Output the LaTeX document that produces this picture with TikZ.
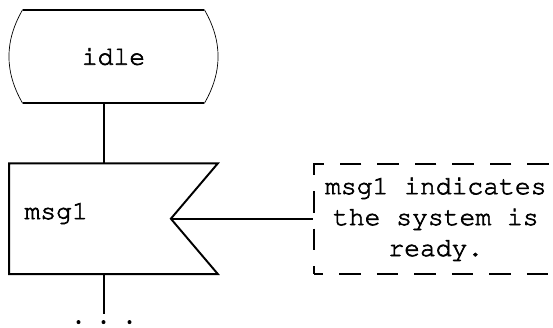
\documentclass[tikz,border=0pt]{standalone}
\usepackage[T1]{fontenc}
\usepackage{courier}
\usetikzlibrary{positioning, calc}
\newcommand\heavytext[1]{\special{pdf:literal direct 2 Tr 0.35 w}#1\special{pdf:literal direct 0 Tr}}
\tikzset{
	statebox/.style ={rectangle, minimum width=3.62cm, minimum height=1.86cm, align=center, inner sep=0pt},
	inputbox/.style ={rectangle, minimum width=4.16cm, minimum height=2.2cm, text width=3.56cm, align=left, inner sep=0pt, text depth=0.32cm},
	notebox/.style  ={rectangle, draw=black, line width=1.1pt, dash pattern=on 0.43cm off 0.32cm, dash phase=0.24cm, minimum width=4.88cm, minimum height=2.2cm, align=center, inner sep=0pt},
	flowline/.style ={line width=1.1pt},
}
\begin{document}
\begin{tikzpicture}[font=\ttfamily\fontsize{15}{17.6}\selectfont]
	\useasboundingbox (0,0) rectangle (11.06,-6.54);
	% nodes
	\node[statebox] (idle) at (2.27,-1.13) {\heavytext{idle}};
	\node[inputbox, below=1.2cm of idle] (msg) {\heavytext{msg1}};
	\node[notebox, right=1.9cm of msg] (note) {\heavytext{msg1 indicates}\\\heavytext{the system is}\\\heavytext{ready.}};
	% state outline
	\draw[flowline] (idle.north west) -- (idle.north east) (idle.south west) -- (idle.south east);
	\draw[thin] (idle.north west) to[bend right=30] (idle.south west);
	\draw[thin] (idle.north east) to[bend left=30] (idle.south east);
	% input outline
	\draw[flowline] (msg.north west) -- (msg.north east) -- ([xshift=-0.94cm]msg.east) coordinate (notch) -- (msg.south east) -- (msg.south west) -- cycle;
	% connectors
	\draw[flowline] ([xshift=-0.19cm]idle.south) -- ([xshift=-0.19cm]msg.north);
	\draw[flowline] (notch) -- (note.west);
	\draw[flowline] ([xshift=-0.19cm]msg.south) -- ++(0,-0.79) coordinate (more);
	\foreach \dx in {-0.51,-0.01,0.51} \fill ([shift={(\dx,-0.17)}]more) circle (0.04);
\end{tikzpicture}
\end{document}
